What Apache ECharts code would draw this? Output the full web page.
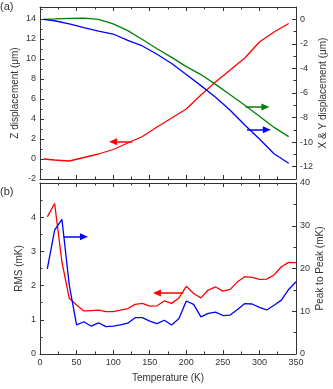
<!DOCTYPE html>
<html>
<head>
<meta charset="utf-8">
<script src="https://cdn.jsdelivr.net/npm/echarts@6/dist/echarts.min.js"></script>
<style>
    html, body { margin: 0; padding: 0; background: #fff; }
    #chart { width: 333px; height: 389px; }
</style>
</head>
<body>
<div id="chart"></div>
<script>
// panel (a): displacement vs temperature
var tempA = [5, 20, 40, 60, 80, 100, 120, 140, 160, 180, 200, 220, 240, 260, 280, 300, 320, 340]
var zDisp = [0.0, -0.1, -0.2, 0.15, 0.5, 0.95, 1.6, 2.25, 3.2, 4.1, 5.0, 6.4, 7.7, 8.9, 10.1, 11.7, 12.7, 13.55]
var xDisp = [0.0, 0.03, 0.08, 0.1, 0.0, -0.38, -0.92, -1.65, -2.4, -3.1, -3.85, -4.5, -5.3, -6.15, -7.0, -7.9, -8.8, -9.55]
var yDisp = [0.0, -0.12, -0.37, -0.67, -0.96, -1.2, -1.72, -2.17, -2.85, -3.6, -4.5, -5.4, -6.35, -7.4, -8.6, -9.75, -10.95, -11.72]

// panel (b): noise vs temperature
var tempB = [10, 20, 30, 40, 50, 60, 70, 80, 90, 100, 110, 120, 130, 140, 150, 160, 170, 180,
    190, 200, 210, 220, 230, 240, 250, 260, 270, 280, 290, 300, 310, 320, 330, 340, 350]
var rms = [4.01, 4.40, 2.69, 1.63, 1.43, 1.26, 1.27, 1.28, 1.24, 1.24, 1.28, 1.33, 1.45, 1.48, 1.40, 1.41, 1.55, 1.48,
    1.64, 1.98, 1.77, 1.64, 1.87, 1.96, 1.84, 1.89, 2.11, 2.26, 2.24, 2.18, 2.19, 2.31, 2.55, 2.68, 2.67]
var peakToPeak = [19.9, 29.0, 31.5, 16.1, 6.8, 7.55, 6.5, 7.3, 6.4, 6.5, 6.8, 7.2, 8.5, 8.5, 7.7, 7.1, 7.9, 6.8,
    8.3, 12.4, 11.6, 8.7, 9.5, 9.8, 9.0, 9.1, 10.4, 11.8, 11.7, 10.9, 10.3, 11.4, 12.6, 15.1, 16.9]

var font = 'Liberation Sans, Arial, sans-serif'
var ink = '#333'

function pairs(xs, ys) {
    return xs.map(function (x, i) { return [x, ys[i]] })
}

function xAxis(grid, pos, labels) {
    return {
        type: 'value', gridIndex: grid, position: pos, min: 0, max: 350, interval: 50,
        axisLine: { show: true, onZero: false, lineStyle: { color: ink, width: 1 } },
        axisTick: { inside: true, length: 4, lineStyle: { color: ink } },
        minorTick: { show: true, splitNumber: 2, length: 2.5, lineStyle: { color: ink } },
        splitLine: { show: false },
        axisLabel: { show: labels, fontSize: 9, color: ink, fontFamily: font, margin: 4 },
        name: labels ? 'Temperature (K)' : '',
        nameLocation: 'middle', nameGap: 19, nameMoveOverlap: false,
        nameTextStyle: { fontSize: 10, color: ink, fontFamily: font }
    }
}

function yAxis(grid, pos, opt) {
    var a = {
        type: 'value', gridIndex: grid, position: pos,
        axisLine: { show: true, onZero: false, lineStyle: { color: ink, width: 1 } },
        axisTick: { show: true, inside: true, length: 4, lineStyle: { color: ink } },
        splitLine: { show: false },
        nameLocation: 'middle', nameRotate: 90, nameMoveOverlap: false,
        nameTextStyle: { fontSize: 10, color: ink, fontFamily: font }
    }
    for (var k in opt) a[k] = opt[k]
    return a
}

function labels(showMin, showMax) {
    return { fontSize: 9, color: ink, fontFamily: font, margin: 4, showMinLabel: showMin, showMaxLabel: showMax }
}

// short ticks only, laid over the major axis
function minorY(grid, pos, min, max) {
    return {
        type: 'value', gridIndex: grid, position: pos, min: min, max: max, interval: 1,
        axisLine: { show: false, onZero: false },
        axisTick: { show: true, inside: true, length: 2.5, lineStyle: { color: ink } },
        axisLabel: { show: false },
        splitLine: { show: false }
    }
}

// annotation arrow: shaft from markLine, head from markPoint
function arrowLine(color, from, to) {
    return {
        silent: true, symbol: ['none', 'none'],
        label: { show: false },
        lineStyle: { color: color, width: 1.5, type: 'solid' },
        emphasis: { disabled: true },
        data: [[{ coord: from }, { coord: to }]]
    }
}

function arrowHead(color, at, left) {
    return {
        silent: true, symbol: 'triangle', symbolSize: [7, 8],
        symbolRotate: left ? 90 : -90,
        symbolOffset: [left ? -3 : 3, 0],
        label: { show: false },
        itemStyle: { color: color },
        data: [{ coord: at }]
    }
}

function line(name, x, y, xi, yi, color, from, to) {
    return {
        name: name, type: 'line', xAxisIndex: xi, yAxisIndex: yi,
        data: pairs(x, y), showSymbol: false, smooth: false,
        lineStyle: { color: color, width: 1.3 },
        itemStyle: { color: color },
        markLine: arrowLine(color, from, to),
        markPoint: arrowHead(color, to, to[0] < from[0])
    }
}

var chart = echarts.init(document.getElementById('chart'))
chart.setOption({
    animation: false,
    textStyle: { fontFamily: font },
    grid: [
        { left: 40, right: 37, top: 7, height: 172, containLabel: false, outerBoundsMode: 'none' },
        { left: 40, right: 37, top: 183, height: 171, containLabel: false, outerBoundsMode: 'none' }
    ],
    xAxis: [
        xAxis(0, 'bottom', false),
        xAxis(0, 'top', false),
        xAxis(1, 'bottom', true),
        xAxis(1, 'top', false)
    ],
    yAxis: [
        yAxis(0, 'left', { min: -2, max: 15.2, interval: 2, name: 'Z displacement (\u03bcm)', nameGap: 20,
            axisLabel: labels(true, false) }),
        yAxis(0, 'right', { min: -13, max: 1, splitNumber: 7, name: 'X & Y displacement (\u03bcm)', nameGap: 22,
            axisLabel: labels(false, false) }),
        minorY(0, 'left', -2, 15.2),
        minorY(0, 'right', -13, 1),
        yAxis(1, 'left', { min: 0, max: 5, interval: 1, name: 'RMS (mK)', nameGap: 16,
            axisLabel: labels(true, false),
            minorTick: { show: true, splitNumber: 2, length: 2.5, lineStyle: { color: ink } } }),
        yAxis(1, 'right', { min: 0, max: 40, interval: 10, name: 'Peak to Peak (mK)', nameGap: 19,
            axisLabel: labels(true, true),
            minorTick: { show: true, splitNumber: 2, length: 2.5, lineStyle: { color: ink } } })
    ],
    graphic: [
        { type: 'text', left: 0, top: 1, style: { text: '(a)', fontSize: 11, fill: ink, fontFamily: font } },
        { type: 'text', left: 0, top: 186, style: { text: '(b)', fontSize: 11, fill: ink, fontFamily: font } }
    ],
    series: [
        line('Z', tempA, zDisp, 0, 0, '#ff0000', [126, 1.73], [104, 1.73]),
        line('X', tempA, xDisp, 0, 1, '#008000', [281, -7.14], [304, -7.14]),
        line('Y', tempA, yDisp, 0, 1, '#0000ff', [283, -9.0], [306, -9.0]),
        line('RMS', tempB, rms, 2, 4, '#ff0000', [196, 1.78], [164, 1.78]),
        line('Peak to Peak', tempB, peakToPeak, 2, 5, '#0000ff', [32, 27.4], [56, 27.4])
    ]
})
</script>
</body>
</html>
